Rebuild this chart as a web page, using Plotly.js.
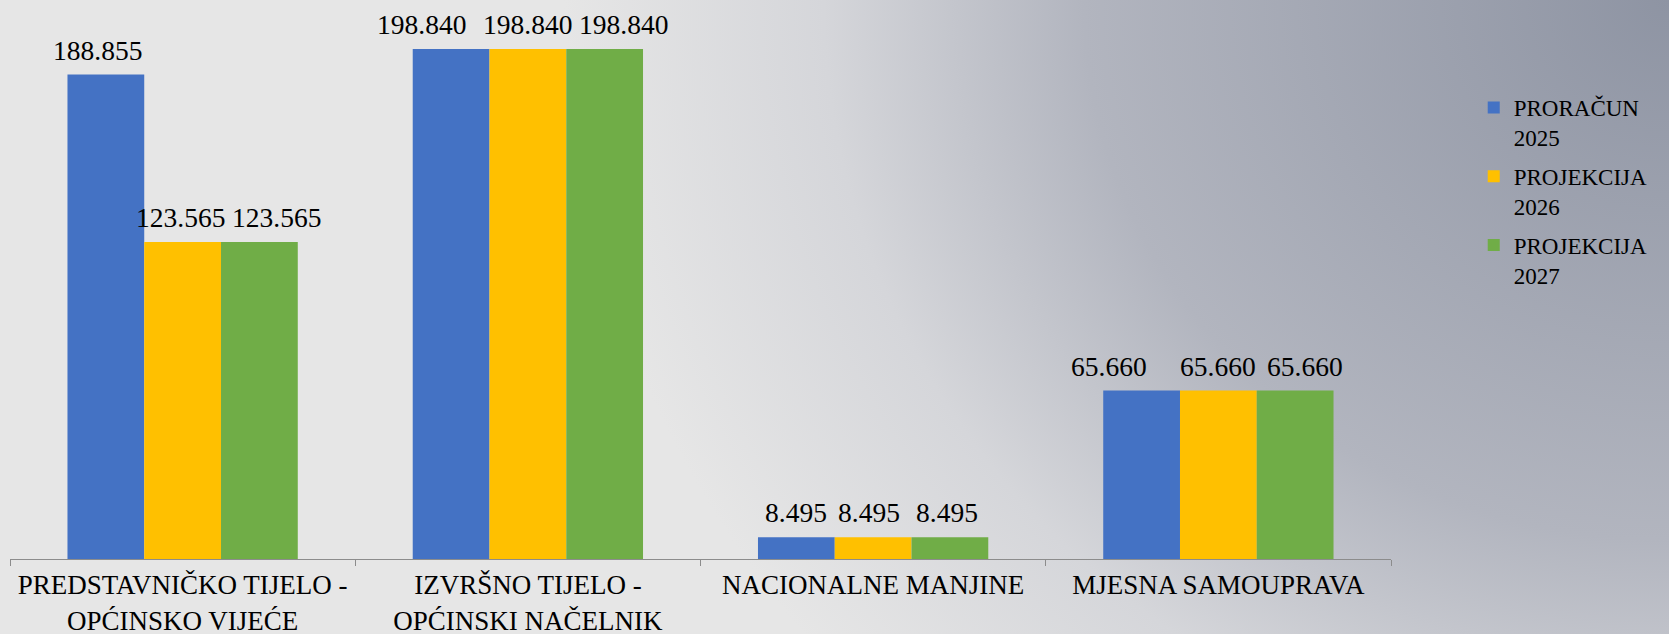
<!DOCTYPE html>
<html>
<head>
<meta charset="utf-8">
<script src="https://cdn.plot.ly/plotly-3.0.1.min.js"></script>
<style>
  html, body { margin: 0; padding: 0; }
  body {
    width: 1669px; height: 634px; overflow: hidden;
    background: radial-gradient(ellipse 1300px 1200px at 100% 0%, #8e94a3 0%, #b2b5bf 45%, #d5d6da 65%, #e6e6e6 85%, #e6e6e6 100%);
  }
  #chart { width: 1669px; height: 634px; }
</style>
</head>
<body>
<div id="chart"></div>
<script>
// ---- data ----
const categories = [
  "PREDSTAVNIČKO TIJELO -<br>OPĆINSKO VIJEĆE",
  "IZVRŠNO TIJELO -<br>OPĆINSKI NAČELNIK",
  "NACIONALNE MANJINE",
  "MJESNA SAMOUPRAVA"
];
const seriesNames = ["PRORAČUN<br>2025", "PROJEKCIJA<br>2026", "PROJEKCIJA<br>2027"];
const proracun2025  = [188855, 198840, 8495, 65660];
const projekcija2026 = [123565, 198840, 8495, 65660];
const projekcija2027 = [123565, 198840, 8495, 65660];

// ---- style ----
const barColors = ["#4472C4", "#FFC000", "#70AD47"];
const serifFamily = "Liberation Serif";
const W = 1669, H = 634;
const chartMargin = {l: 10, r: 278, t: 46, b: 75};
const barGapFrac = 0.333;
// label overlap-avoidance nudges (px), like the original's label placement
const labelNudge = [[-8, -30, 0, -33], [-2, 0, -4, 0], [17, 19, -3, 10]];

const allSeries = [proracun2025, projekcija2026, projekcija2027];
function fmt(v) { return String(v).replace(/\B(?=(\d{3})+(?!\d))/g, "."); }

const traces = allSeries.map((vals, s) => ({
  type: "bar",
  name: seriesNames[s],
  legendgroup: "g" + s,
  x: categories,
  y: vals,
  marker: {color: barColors[s], line: {width: 0}},
  hoverinfo: "skip"
}));

const plotW = W - chartMargin.l - chartMargin.r;
const barW = (plotW / categories.length) * (1 - barGapFrac) / allSeries.length;
const annotations = [];
allSeries.forEach((vals, s) => {
  vals.forEach((v, j) => {
    annotations.push({
      x: categories[j], y: v, xref: "x", yref: "y",
      text: fmt(v), showarrow: false,
      xanchor: "center", yanchor: "bottom",
      xshift: (s - 1) * barW + labelNudge[s][j],
      yshift: 7,
      font: {family: serifFamily, size: 27.5, color: "#000000"}
    });
  });
});

const layout = {
  width: W, height: H,
  margin: chartMargin,
  paper_bgcolor: "rgba(0,0,0,0)",
  plot_bgcolor: "rgba(0,0,0,0)",
  barmode: "group",
  bargap: barGapFrac,
  bargroupgap: 0,
  font: {family: serifFamily, size: 27, color: "#000000"},
  showlegend: true,
  legend: {
    xref: "container", yref: "container",
    x: 0.883, y: 1 - 86 / H, xanchor: "left", yanchor: "top",
    font: {family: serifFamily, size: 23, color: "#000000"},
    valign: "top",
    bgcolor: "rgba(0,0,0,0)",
    traceorder: "grouped",
    tracegroupgap: 6
  },
  xaxis: {
    type: "category",
    showgrid: false,
    showline: true, linecolor: "#8c8c8c", linewidth: 1,
    ticks: "outside", tickson: "boundaries", ticklen: 6, tickcolor: "#8c8c8c",
    tickfont: {family: serifFamily, size: 27, color: "#000000"},
    ticklabelstandoff: 2,
    tickangle: 0,
    fixedrange: true
  },
  yaxis: {
    range: [0, 200000],
    visible: false,
    showgrid: false,
    zeroline: false,
    fixedrange: true
  },
  annotations: annotations
};

Plotly.newPlot("chart", traces, layout, {displayModeBar: false, staticPlot: true});
</script>
</body>
</html>
